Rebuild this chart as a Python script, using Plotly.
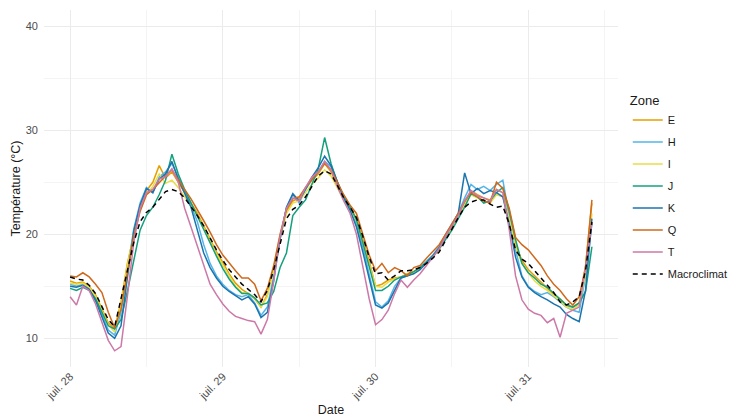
import pandas as pd
import plotly.graph_objects as go

# Hourly temperatures per zone (°C), 28 July 00:00 -> 31 July 10:00
times = pd.date_range("2023-07-28 00:00", periods=83, freq="h")

E = [15.5, 15.3, 15.4, 15.0, 14.2, 12.8, 11.5, 10.9,
     13.5, 17.2, 20.0, 22.5, 24.2, 25.0, 26.6, 25.4, 26.0,
     25.0, 24.0, 23.0, 22.0, 20.8, 19.6, 18.3, 17.3,
     16.2, 15.3, 14.7, 14.3, 13.8, 13.0,
     14.2, 16.8, 19.8, 22.2, 23.2, 23.5, 24.4, 25.2, 25.8, 26.8,
     26.0, 24.8, 23.5, 22.6, 21.5, 19.5, 17.4, 15.0,
     15.2, 15.6, 15.8, 15.9, 16.2, 16.4, 16.8, 17.3, 17.9, 18.6,
     19.8, 20.8, 21.8, 23.0, 24.2, 23.8, 23.5, 23.3, 24.3, 24.0,
     21.8, 19.0, 17.5, 16.6, 16.0, 15.3, 14.8, 14.2, 13.8, 13.2, 13.0, 13.4, 17.0, 23.0]

H = [15.2, 15.0, 15.2, 14.8, 13.8, 12.2, 10.8, 10.3,
     12.5, 16.5, 20.5, 23.0, 24.5, 24.0, 25.5, 26.0, 26.8,
     25.5, 24.2, 22.8, 21.2, 19.0, 17.2, 16.0, 15.2,
     14.6, 14.2, 14.0, 14.2, 13.4, 12.2,
     13.0, 16.0, 19.5, 22.5, 23.8, 23.0, 24.3, 25.3, 26.0, 27.0,
     26.5, 25.0, 23.6, 22.4, 21.0, 18.8, 16.0, 13.5,
     13.0, 13.6, 15.0, 15.8, 16.0, 16.3, 16.8, 17.4, 18.0, 18.8,
     20.0, 21.0, 22.0, 23.5, 24.8, 24.3, 24.6, 24.2, 24.8, 25.2,
     22.0, 18.5, 16.0, 15.0, 14.5, 14.2, 14.4, 14.0, 13.5, 13.0, 12.7, 12.5, 16.0, 21.0]

I = [15.3, 15.2, 15.3, 14.9, 14.0, 12.6, 11.3, 10.6,
     13.2, 17.0, 20.0, 22.3, 23.8, 24.6, 25.8, 24.9, 25.2,
     24.5, 23.6, 22.7, 21.8, 20.6, 19.3, 18.1, 17.0,
     16.0, 15.0, 14.4, 14.3, 13.9, 13.0,
     14.0, 16.6, 19.6, 22.0, 23.0, 23.2, 24.0, 24.8, 25.4, 26.2,
     25.6, 24.5, 23.3, 22.4, 21.3, 19.2, 17.2, 15.0,
     14.9, 15.4, 15.7, 15.9, 16.1, 16.3, 16.7, 17.2, 17.8, 18.5,
     19.6, 20.6, 21.6, 22.8, 23.8, 23.5, 23.2, 23.0, 23.8, 23.6,
     21.5, 18.8, 17.2, 16.3, 15.5, 15.0, 14.6, 14.1, 13.6, 13.0, 12.8, 13.2, 16.2, 22.0]

J = [14.8, 14.6, 14.9, 14.6, 13.8, 12.5, 11.2, 10.9,
     11.8, 14.5, 17.5, 20.4, 21.8, 22.6, 23.8, 25.2, 27.7,
     25.8, 24.3, 23.0, 21.8, 20.5, 19.2, 17.9, 16.7,
     15.7, 14.9, 14.3, 14.3, 13.9, 13.2,
     13.4, 14.5, 16.8, 18.2, 21.8, 22.6, 23.3, 24.8, 26.3, 29.3,
     26.8, 25.0, 23.6, 22.6, 21.4, 19.2, 17.0, 14.6,
     14.6, 15.0, 15.6, 15.9, 16.1, 16.4, 16.8, 17.3, 17.9, 18.6,
     19.5, 20.4, 21.5, 22.6, 23.9, 23.6, 23.0, 23.2, 24.0, 24.5,
     22.3, 19.5, 17.2, 16.3, 15.8, 15.2, 14.9, 14.3, 13.7, 13.2, 13.0, 13.4, 14.5, 18.8]

K = [15.0, 14.9, 15.1, 14.7, 13.6, 12.0, 10.5, 10.0,
     11.2, 15.8, 20.3, 22.8, 24.4, 24.0, 25.3, 25.8, 27.0,
     25.3, 24.0, 22.6, 20.4, 18.2, 16.8, 15.8, 15.0,
     14.5, 14.1, 13.7, 14.0, 13.3, 12.0,
     12.5, 15.6, 19.6, 22.6, 23.9, 23.2, 24.3, 25.5, 26.4, 27.5,
     26.6, 25.0, 23.5, 22.3, 20.7, 18.3, 15.6, 13.2,
     12.9, 13.4, 14.6, 15.8, 16.0, 16.2, 16.6, 17.2, 17.9, 18.7,
     19.8, 20.9, 22.0, 25.9, 23.9, 24.4, 23.9, 24.2, 24.0, 23.6,
     21.0, 17.8, 15.9, 14.9, 14.4, 14.0, 13.7, 13.3, 13.0, 12.3, 11.9, 11.6, 14.6, 21.5]

Q = [16.0, 15.9, 16.3, 15.9, 15.2, 14.4, 12.5, 11.0,
     12.8, 16.5, 19.8, 22.2, 23.8, 24.3, 25.0, 25.6, 26.2,
     25.2, 24.3, 23.4, 22.4, 21.3, 20.2, 19.0, 18.0,
     17.2, 16.5, 15.8, 15.8, 15.2, 13.6,
     14.8, 17.0, 20.0, 22.4, 23.4, 23.6, 24.5, 25.3, 26.0, 26.8,
     26.2, 25.0, 23.8, 22.8, 22.0, 20.0, 18.0, 16.5,
     17.2, 16.3, 16.8, 16.5, 16.0, 16.8, 17.0, 17.7, 18.3, 19.0,
     20.0, 21.0, 22.0, 23.2, 24.0, 23.6, 23.2, 23.0, 25.0, 24.4,
     22.5, 19.7, 19.0, 18.5, 17.8, 17.0, 16.0, 15.2, 14.6, 13.8, 13.2, 14.0, 16.8, 23.3]

T = [14.0, 13.2, 15.0, 14.6, 13.3, 11.5, 9.8, 8.8,
     9.2, 14.0, 19.2, 22.5, 24.0, 24.3, 25.3, 25.5, 26.3,
     25.0, 22.5, 20.7, 18.9, 17.0, 15.2, 14.2, 13.3,
     12.6, 12.1, 11.9, 11.7, 11.6, 10.4,
     11.8, 15.5, 19.8, 22.5, 23.5, 23.2, 24.5, 25.5, 26.0, 27.0,
     26.2, 24.6, 23.2, 22.0, 20.0, 17.0, 13.8, 11.3,
     11.8, 12.7, 14.3, 15.6, 14.9, 15.6, 16.2, 17.0, 17.8, 18.6,
     19.8, 20.8, 21.8, 23.2, 24.2, 23.7, 23.5, 23.2, 24.3, 24.0,
     20.5, 16.0, 13.7, 12.8, 12.4, 12.2, 11.5, 11.9, 10.1, 12.4, 12.7, 13.0, 16.8, 21.1]

Macroclimat = [15.9, 15.7, 15.6, 15.1, 14.3, 13.0, 11.8, 11.1,
               13.8, 16.8, 19.2, 21.2, 22.1, 22.6, 23.4, 24.1, 24.3,
               24.1, 23.5, 22.7, 21.8, 20.8, 19.6, 18.5, 17.5,
               16.6, 15.9, 15.2, 14.7, 14.2, 13.5,
               14.6, 16.6, 19.2, 21.5, 22.4, 22.8, 23.6, 24.6, 25.6, 26.1,
               25.8, 24.7, 23.5, 22.6, 21.6, 19.8, 17.8, 16.2,
               16.3, 15.6, 16.0, 16.5, 16.5, 16.6, 16.8, 17.2, 17.7, 18.3,
               19.4, 20.6, 21.6, 22.6, 23.1, 23.3, 23.3, 22.9, 22.6, 22.7,
               21.0, 18.5, 17.6, 17.2, 16.5, 15.8, 15.0, 14.4, 13.5, 13.2, 13.5, 14.0, 16.5, 21.2]

zones = ["E", "H", "I", "J", "K", "Q", "T"]
zone_values = [E, H, I, J, K, Q, T]
zone_colors = ["#E69F00", "#56B4E9", "#E8DE45", "#14A07E", "#1A74AE", "#CF6A1C", "#CC79A7"]

tick_dates = ["2023-07-28", "2023-07-29", "2023-07-30", "2023-07-31"]
tick_labels = ["juil. 28", "juil. 29", "juil. 30", "juil. 31"]
minor_dates = ["2023-07-28 12:00", "2023-07-29 12:00", "2023-07-30 12:00", "2023-07-31 12:00"]

fig = go.Figure()
for name, vals, col in zip(zones, zone_values, zone_colors):
    fig.add_trace(go.Scatter(x=times, y=vals, mode="lines", name=name,
                             legendgroup=name,
                             line=dict(color=col, width=1.5)))
fig.add_trace(go.Scatter(x=times, y=Macroclimat, mode="lines", name="Macroclimat",
                         legendgroup="Macroclimat",
                         line=dict(color="black", width=1.5, dash="5px,4px")))

fig.update_layout(
    width=729, height=419,
    margin=dict(l=44, r=111, t=10, b=52, autoexpand=False),
    plot_bgcolor="white", paper_bgcolor="white",
    font=dict(family="Liberation Sans, Arial, sans-serif", color="#1a1a1a"),
    legend=dict(
        title=dict(text="Zone", font=dict(size=13, color="#1a1a1a"), side="top"),
        font=dict(size=11, color="#1a1a1a"),
        x=1.017, xanchor="left", y=0.5, yanchor="middle",
        tracegroupgap=3, itemwidth=30,
        bgcolor="rgba(0,0,0,0)",
    ),
    showlegend=True,
)

fig.update_xaxes(
    range=["2023-07-27 19:54", "2023-07-31 14:06"],
    tickmode="array", tickvals=tick_dates, ticktext=tick_labels,
    tickangle=-45, tickfont=dict(size=11, color="#4D4D4D"),
    showgrid=True, gridcolor="#EBEBEB", gridwidth=1,
    minor=dict(showgrid=True, tickmode="array", tickvals=minor_dates,
               gridcolor="#F4F4F4", gridwidth=1),
    zeroline=False, showline=False, ticks="",
    title=dict(text="Date", font=dict(size=12.5, color="#1a1a1a"), standoff=4),
)
fig.update_yaxes(
    range=[7.24, 41.56],
    tickmode="array", tickvals=[10, 20, 30, 40],
    tickfont=dict(size=11, color="#4D4D4D"),
    ticklabelstandoff=5,
    showgrid=True, gridcolor="#EBEBEB", gridwidth=1,
    minor=dict(showgrid=True, tickmode="array", tickvals=[15, 25, 35],
               gridcolor="#F4F4F4", gridwidth=1),
    zeroline=False, showline=False, ticks="",
    title=dict(text="Température (°C)", font=dict(size=12.5, color="#1a1a1a"), standoff=2),
)

fig.write_html("out.html")
